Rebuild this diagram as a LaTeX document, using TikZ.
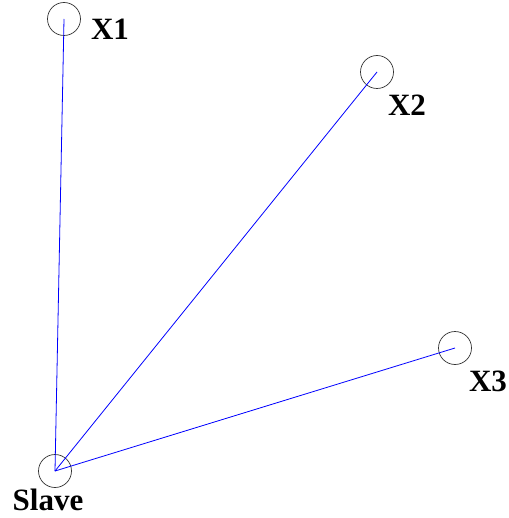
\documentclass[tikz,border=0pt]{standalone}
\usepackage{fontspec}
\setmainfont{Liberation Serif}

\begin{document}
\begin{tikzpicture}[x=1pt,y=-1pt,
  station/.style={circle,draw=black!80,line width=0.7pt,minimum size=33pt,inner sep=0pt},
  link/.style={blue,line width=0.8pt},
  tag/.style={font=\bfseries\fontsize{31}{31}\selectfont,inner sep=0pt}]
\useasboundingbox (0,0) rectangle (508,518);
\node[station] (slave) at (55,471) {};
\node[station] (x1) at (64,19) {};
\node[station] (x2) at (377,72) {};
\node[station] (x3) at (455,348) {};
\draw[link] (slave.center)--(x1.center);
\draw[link] (slave.center)--(x2.center);
\draw[link] (slave.center)--(x3.center);
\node[tag] (lx1) at (110,29) {X1};
\node[tag] (lx2) at (407,105) {X2};
\node[tag] (lx3) at (488,381) {X3};
\node[tag] (lslave) at (48,500) {Slave};
\end{tikzpicture}
\end{document}
